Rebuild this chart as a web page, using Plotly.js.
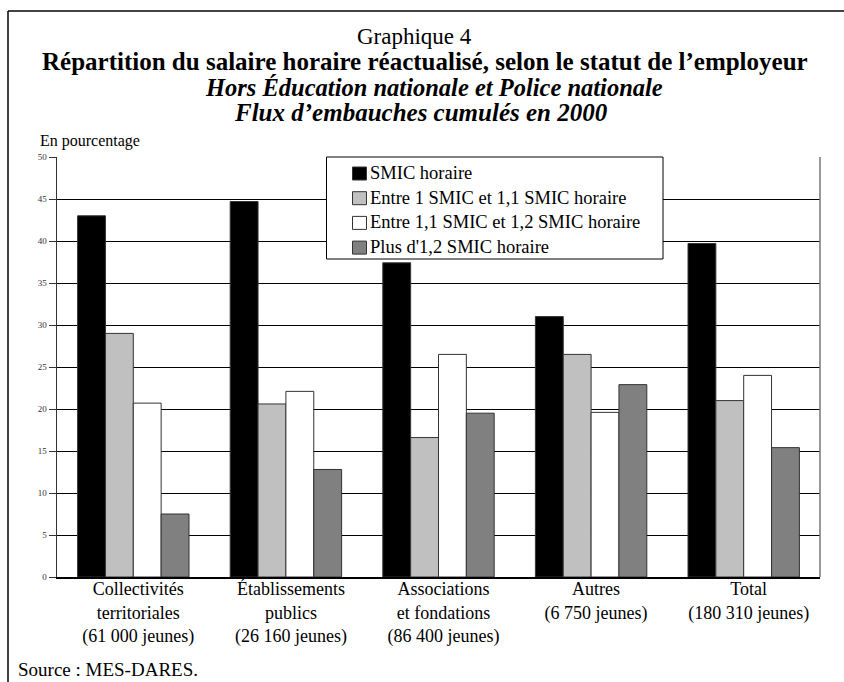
<!DOCTYPE html>
<html><head><meta charset="utf-8">
<script src="https://cdn.plot.ly/plotly-3.0.1.min.js"></script>
<style>html,body{margin:0;padding:0;background:#fff}</style>
</head><body><div id="chart" style="width:844px;height:682px"></div>
<script>
var categories = [
  "Collectivités<br>territoriales<br>(61 000 jeunes)",
  "Établissements<br>publics<br>(26 160 jeunes)",
  "Associations<br>et fondations<br>(86 400 jeunes)",
  "Autres<br>(6 750 jeunes)",
  "Total<br>(180 310 jeunes)"
];
var seriesNames = ["SMIC horaire", "Entre 1 SMIC et 1,1 SMIC horaire", "Entre 1,1 SMIC et 1,2 SMIC horaire", "Plus d'1,2 SMIC horaire"];
var smic      = [43.0, 44.7, 37.4, 31.0, 39.7];
var entre1    = [29.0, 20.6, 16.6, 26.5, 21.0];
var entre11   = [20.7, 22.1, 26.5, 19.6, 24.0];
var plus12    = [7.5, 12.8, 19.5, 22.9, 15.4];
var yTicks = [0,5,10,15,20,25,30,35,40,45,50];

var colors = ["#000000", "#c0c0c0", "#ffffff", "#808080"];
var allSeries = [smic, entre1, entre11, plus12];

var traces = allSeries.map(function(vals, i){
  return {type:"bar", x:categories, y:vals, name:seriesNames[i], showlegend:false,
    marker:{color:colors[i], line:{color:"#333", width:1}}, hoverinfo:"none"};
});

// pixel helpers for layout decorations
var L=57, R=820, T=157, B=577;
function px(x){return (x-L)/(R-L);}
function py(y){return (B-y)/(B-T);}
var serif = "Liberation Serif, Times New Roman, serif";

var shapes = [
  {type:"line", xref:"paper", yref:"paper", x0:px(8), x1:px(844), y0:py(11), y1:py(11), line:{color:"#444", width:2}},
  {type:"line", xref:"paper", yref:"paper", x0:px(8), x1:px(8), y0:py(11), y1:py(682), line:{color:"#000", width:1.5}},
  {type:"line", xref:"paper", yref:"paper", x0:1, x1:1, y0:0, y1:1, line:{color:"#777", width:1.5}},
  // legend box
  {type:"rect", xref:"paper", yref:"paper", x0:px(326.5), x1:px(663), y0:py(157), y1:py(259), fillcolor:"#fff", line:{color:"#000", width:1}, layer:"above"}
];
var annotations = [
  {text:"Graphique 4", x:px(414), y:py(37), font:{size:23, family:serif}},
  {text:"<b>Répartition du salaire horaire réactualisé, selon le statut de l’employeur</b>", x:px(425), y:py(62), font:{size:25, family:serif}},
  {text:"<b><i>Hors Éducation nationale et Police nationale</i></b>", x:px(434), y:py(88), font:{size:24.5, family:serif}},
  {text:"<b><i>Flux d’embauches cumulés en 2000</i></b>", x:px(421), y:py(113), font:{size:25, family:serif}},
  {text:"En pourcentage", x:px(38), y:py(141), xanchor:"left", font:{size:16, family:serif}},
  {text:"Source : MES-DARES.", x:px(16), y:py(669), xanchor:"left", font:{size:19, family:serif}}
];
// manual legend entries
var legTop = 173, legStep = 24.7;
seriesNames.forEach(function(name, i){
  var cy = legTop + i*legStep;
  shapes.push({type:"rect", xref:"paper", yref:"paper", x0:px(352.5), x1:px(366.5), y0:py(cy-6), y1:py(cy+7),
    fillcolor:colors[i], line:{color:"#333", width:1}, layer:"above"});
  annotations.push({text:name, x:px(368), y:py(cy), xanchor:"left", font:{size:18.5, family:serif}});
});
annotations.forEach(function(a){
  a.xref="paper"; a.yref="paper"; a.showarrow=false;
  if(!a.xanchor) a.xanchor="center";
  a.yanchor="middle";
  a.font.color="#000";
});

var layout = {
  width:844, height:682,
  margin:{l:L, r:844-R, t:T, b:682-B, pad:0},
  paper_bgcolor:"#fff", plot_bgcolor:"#fff",
  barmode:"group", bargap:0.27, bargroupgap:0,
  font:{family:serif, color:"#000"},
  showlegend:false,
  xaxis:{tickvals:categories, ticktext:categories, showline:true, linecolor:"#000", linewidth:1.5,
    ticks:"", tickfont:{size:18, family:serif, color:"#000"}, showgrid:false, fixedrange:true,
    ticklabelstandoff:-5, ticklabelshift:5},
  yaxis:{range:[0,50], tickvals:yTicks, ticktext:yTicks.map(String), showline:true, linecolor:"#333", linewidth:1.5,
    ticks:"outside", ticklen:7, tickcolor:"#333", tickfont:{size:9, family:serif, color:"#333"},
    showgrid:true, gridcolor:"#000", gridwidth:1, zeroline:false, fixedrange:true},
  shapes:shapes,
  annotations:annotations
};
Plotly.newPlot("chart", traces, layout, {displayModeBar:false, staticPlot:true});
</script></body></html>
